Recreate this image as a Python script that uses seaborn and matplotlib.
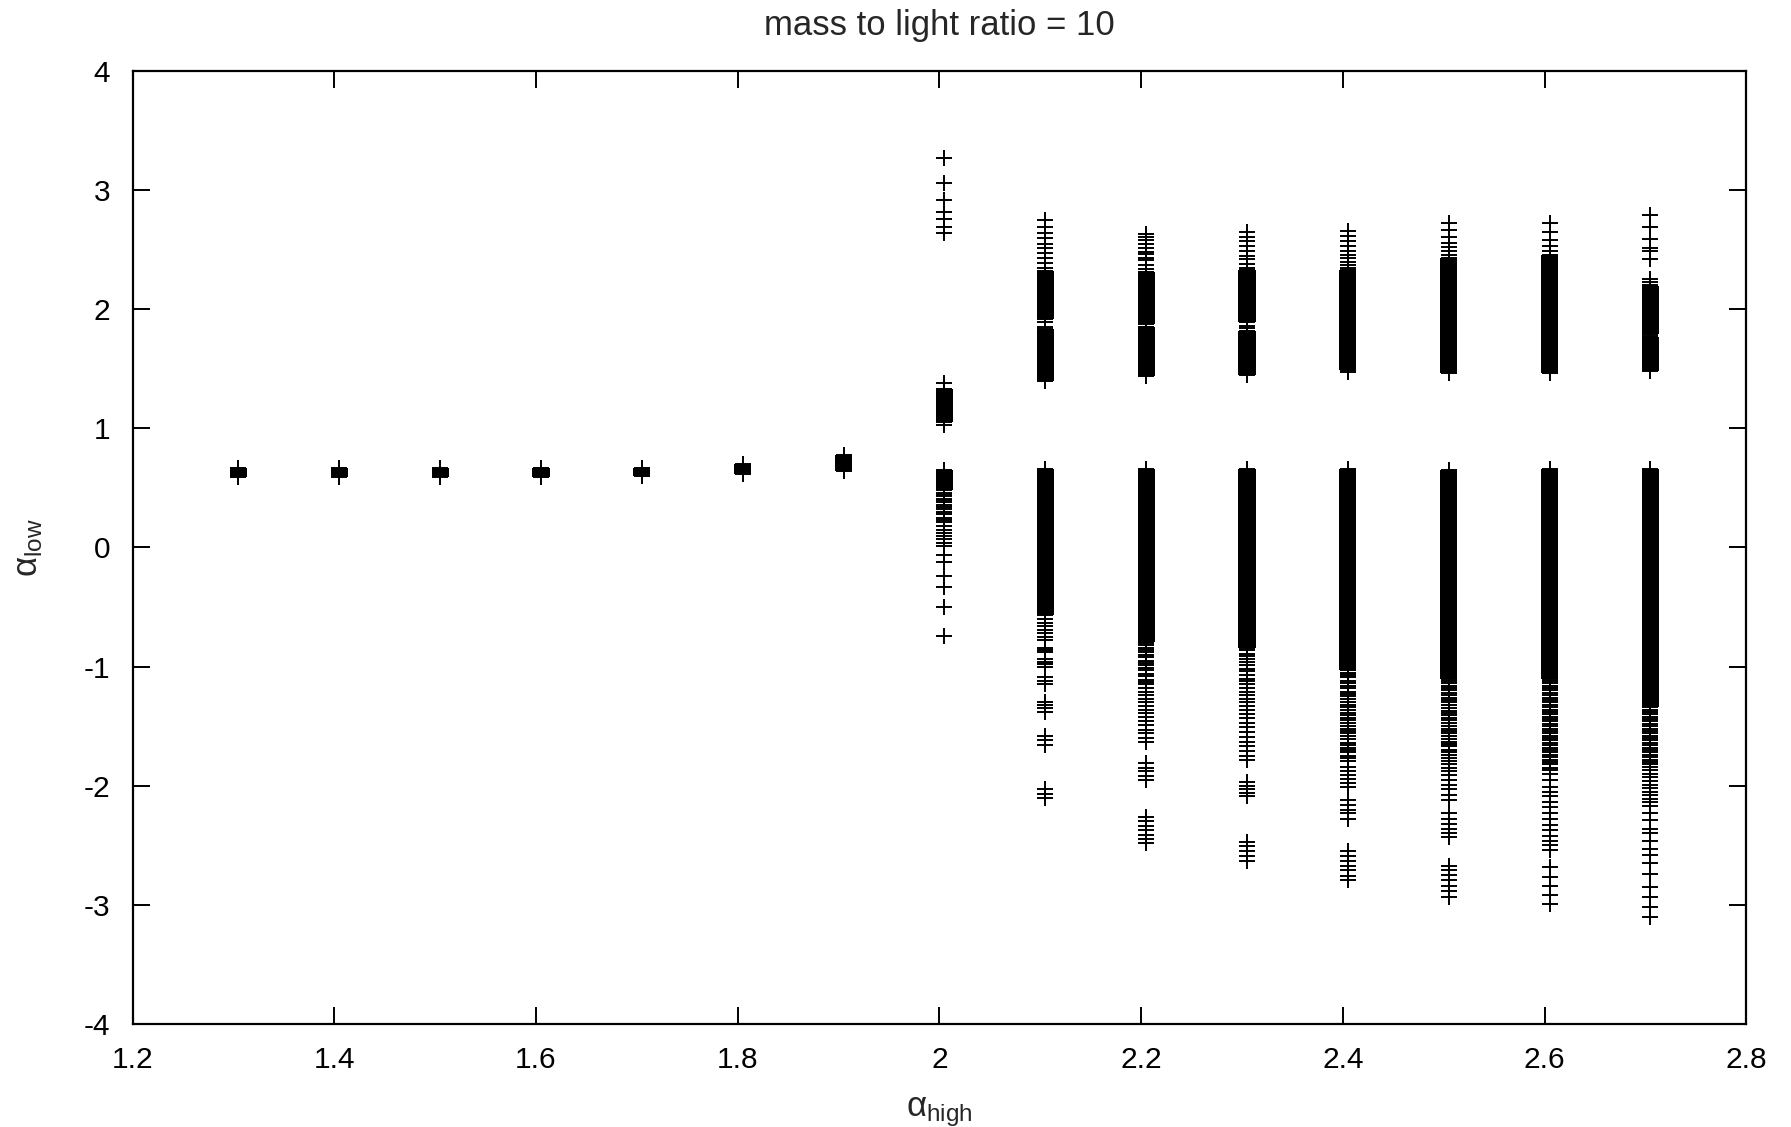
import matplotlib
matplotlib.use("Agg")
import matplotlib.pyplot as plt
import seaborn as sns
import pandas as pd

# ---------------- data ----------------
x_cols = [1.305, 1.405, 1.505, 1.605, 1.705, 1.805, 1.905,
          2.005, 2.105, 2.205, 2.305, 2.405, 2.505, 2.605, 2.705]

# solid (densely packed) ranges of alpha_low per column: (low, high)
bands_1_3 = [(0.59, 0.665)]
bands_1_4 = [(0.59, 0.665)]
bands_1_5 = [(0.595, 0.665)]
bands_1_6 = [(0.595, 0.665)]
bands_1_7 = [(0.60, 0.665)]
bands_1_8 = [(0.615, 0.70)]
bands_1_9 = [(0.64, 0.78)]
bands_2_0 = [(1.05, 1.33), (0.48, 0.65)]
bands_2_1 = [(1.40, 1.83), (1.92, 2.32), (-0.57, 0.66)]
bands_2_2 = [(1.44, 1.85), (1.875, 2.315), (-0.79, 0.66)]
bands_2_3 = [(1.45, 1.82), (1.89, 2.33), (-0.84, 0.66)]
bands_2_4 = [(1.49, 2.33), (-1.03, 0.66)]
bands_2_5 = [(1.465, 2.43), (-1.10, 0.65)]
bands_2_6 = [(1.465, 2.455), (-1.10, 0.66)]
bands_2_7 = [(1.48, 1.765), (1.79, 2.195), (-1.34, 0.66)]

# isolated points of alpha_low per column
points_2_0 = [3.27, 3.06, 2.92, 2.82, 2.76, 2.69, 2.64, 1.38, 1.03,
              0.46, 0.44, 0.43, 0.41, 0.40, 0.38, 0.36, 0.34, 0.32, 0.30, 0.28,
              0.25, 0.23, 0.21, 0.18, 0.15, 0.12, 0.10, 0.07, 0.04, 0.01,
              -0.06, -0.12, -0.24, -0.33, -0.50, -0.74]
points_2_1 = [2.75, 2.69, 2.64, 2.60, 2.55, 2.51, 2.47, 2.43, 2.39, 2.35,
              1.895, 1.855,
              -0.60, -0.63, -0.66, -0.69, -0.72, -0.75, -0.78, -0.84, -0.86,
              -0.88, -0.94, -0.96, -0.98, -1.00, -1.09, -1.12, -1.15,
              -1.30, -1.32, -1.35, -1.38, -1.58, -1.62, -1.66,
              -2.03, -2.07, -2.10]
points_2_2 = [2.63, 2.61, 2.58, 2.55, 2.51, 2.48, 2.46, 2.43, 2.41, 2.37, 2.34,
              1.853,
              -0.80, -0.82, -0.84, -0.86, -0.88, -0.90, -0.92, -0.95, -0.97,
              -0.99, -1.01, -1.03, -1.06, -1.08, -1.11, -1.13, -1.15, -1.18,
              -1.21, -1.24, -1.27, -1.30, -1.33, -1.36, -1.39, -1.42,
              -1.46, -1.49, -1.53, -1.56, -1.60, -1.63,
              -1.81, -1.85, -1.88, -1.92, -1.95,
              -2.26, -2.30, -2.34, -2.37, -2.41, -2.45, -2.48]
points_2_3 = [2.65, 2.61, 2.57, 2.53, 2.49, 2.45, 2.42, 2.38, 2.35,
              1.86, 1.84,
              -0.86, -0.89, -0.91, -0.94, -0.96, -0.99, -1.02, -1.04, -1.07,
              -1.10, -1.12, -1.15, -1.18, -1.21, -1.24, -1.27, -1.30, -1.33,
              -1.36, -1.40, -1.43, -1.47, -1.51, -1.55, -1.59, -1.63, -1.67,
              -1.71, -1.75, -1.78,
              -1.97, -2.00, -2.03, -2.06, -2.09,
              -2.47, -2.51, -2.55, -2.59, -2.63]
points_2_4 = [2.66, 2.615, 2.57, 2.53, 2.49, 2.455, 2.43, 2.40, 2.37, 2.345,
              1.475,
              -1.05, -1.07, -1.09, -1.12, -1.14, -1.16, -1.18, -1.21, -1.23,
              -1.25, -1.27, -1.30, -1.32, -1.34, -1.36, -1.39, -1.41, -1.43,
              -1.45, -1.47, -1.50, -1.52, -1.54, -1.56, -1.58, -1.61, -1.64,
              -1.66, -1.68, -1.70, -1.72, -1.75, -1.77, -1.79,
              -1.84, -1.88, -1.91, -1.94, -1.98, -2.01,
              -2.12, -2.16, -2.20, -2.23, -2.28,
              -2.55, -2.59, -2.63, -2.67, -2.71, -2.76, -2.79]
points_2_5 = [2.72, 2.665, 2.61, 2.56, 2.52, 2.485, 2.455,
              -1.12, -1.14, -1.16, -1.18, -1.20, -1.22, -1.24, -1.26, -1.28,
              -1.30, -1.32, -1.35, -1.37, -1.39, -1.41, -1.43, -1.45, -1.47,
              -1.50, -1.52, -1.54, -1.56, -1.58, -1.61, -1.63, -1.65, -1.67,
              -1.70, -1.72, -1.74, -1.77, -1.79, -1.82, -1.85, -1.88, -1.91,
              -1.95, -1.99, -2.03, -2.08, -2.12,
              -2.23, -2.28, -2.32, -2.36, -2.40, -2.43,
              -2.67, -2.71, -2.75, -2.79, -2.84, -2.88, -2.93]
points_2_6 = [2.72, 2.645, 2.58, 2.53, 2.49,
              -1.12, -1.14, -1.16, -1.18, -1.20, -1.22, -1.24, -1.26, -1.28,
              -1.30, -1.32, -1.34, -1.36, -1.38, -1.40, -1.42, -1.44, -1.46,
              -1.48, -1.50, -1.52, -1.54, -1.56, -1.58, -1.60, -1.62, -1.64,
              -1.66, -1.68, -1.70, -1.72, -1.74, -1.76, -1.78, -1.80, -1.82,
              -1.85, -1.87, -1.90,
              -1.95, -2.01, -2.05, -2.09, -2.14, -2.18, -2.23, -2.28, -2.33,
              -2.37, -2.42, -2.46, -2.50, -2.54,
              -2.68, -2.77, -2.84, -2.92, -2.99]
points_2_7 = [2.79, 2.69, 2.59, 2.51, 2.49, 2.42, 2.25, 2.225, 2.205, 1.775,
              -1.36, -1.38, -1.40, -1.42, -1.44, -1.46, -1.48, -1.50, -1.52,
              -1.54, -1.56, -1.58, -1.60, -1.62, -1.64, -1.66, -1.68, -1.70,
              -1.72, -1.74, -1.76, -1.78, -1.80, -1.82, -1.84, -1.87, -1.90,
              -1.93, -1.96, -1.99, -2.02, -2.05, -2.08, -2.11, -2.14, -2.17,
              -2.23, -2.29, -2.36, -2.40, -2.46, -2.53, -2.58, -2.65, -2.74,
              -2.85, -2.93, -3.02, -3.10]

x_tick_values = [1.2, 1.4, 1.6, 1.8, 2.0, 2.2, 2.4, 2.6, 2.8]
x_tick_labels = ["1.2", "1.4", "1.6", "1.8", "2", "2.2", "2.4", "2.6", "2.8"]
y_tick_values = [-4, -3, -2, -1, 0, 1, 2, 3, 4]
y_tick_labels = ["-4", "-3", "-2", "-1", "0", "1", "2", "3", "4"]

title_text = "mass to light ratio = 10"
x_label = r"$\alpha_{\mathrm{high}}$"
y_label = r"$\alpha_{\mathrm{low}}$"

# ---------------- assemble ----------------
all_bands = [bands_1_3, bands_1_4, bands_1_5, bands_1_6, bands_1_7, bands_1_8,
             bands_1_9, bands_2_0, bands_2_1, bands_2_2, bands_2_3, bands_2_4,
             bands_2_5, bands_2_6, bands_2_7]
all_points = [[], [], [], [], [], [], [], points_2_0, points_2_1, points_2_2,
              points_2_3, points_2_4, points_2_5, points_2_6, points_2_7]

rows = []
for xc, bl, pl in zip(x_cols, all_bands, all_points):
    for lo, hi in bl:
        rows.append((xc, lo))
        rows.append((xc, hi))
    for y in pl:
        rows.append((xc, y))
df = pd.DataFrame(rows, columns=["alpha_high", "alpha_low"])

# ---------------- style ----------------
sns.set_theme(style="ticks")
plt.rcParams["font.family"] = ["Liberation Sans", "DejaVu Sans"]
plt.rcParams["mathtext.fontset"] = "custom"
plt.rcParams["mathtext.rm"] = "Liberation Sans"
plt.rcParams["mathtext.it"] = "Liberation Sans"
plt.rcParams["mathtext.bf"] = "Liberation Sans:bold"

fig = plt.figure(figsize=(17.91, 11.27), dpi=100)
ax = fig.add_axes([0.074, 0.0914, 0.901, 0.8456])

band_width = 0.017
for xc, bl in zip(x_cols, all_bands):
    for lo, hi in bl:
        ax.bar(xc, hi - lo, bottom=lo, width=band_width, color="black",
               linewidth=0, zorder=2)

sns.scatterplot(data=df, x="alpha_high", y="alpha_low", marker="+",
                color="black", s=135, linewidth=1.4, ax=ax, zorder=3,
                legend=False)

ax.set_xlim(1.2, 2.8)
ax.set_ylim(-4, 4)
ax.set_xticks(x_tick_values)
ax.set_xticklabels(x_tick_labels)
ax.set_yticks(y_tick_values)
ax.set_yticklabels(y_tick_labels)

for sp in ax.spines.values():
    sp.set_visible(True)
    sp.set_linewidth(1.6)
    sp.set_color("black")

ax.tick_params(axis="both", which="major", direction="in", length=12,
               width=1.4, colors="black", labelsize=21.5, pad=16,
               top=True, right=True)

ax.set_title(title_text, fontsize=25, pad=26)
ax.set_xlabel(x_label, fontsize=25, labelpad=15)
ax.set_ylabel(y_label, fontsize=25, labelpad=28)

fig.savefig("out.png", dpi=100, facecolor="white")
